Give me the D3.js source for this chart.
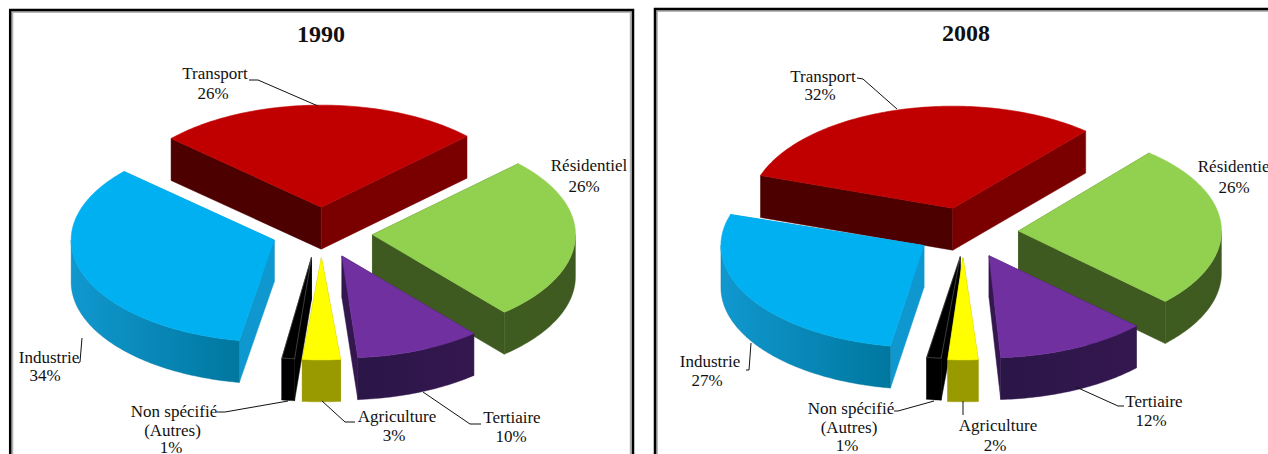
<!DOCTYPE html>
<html>
<head>
<meta charset="utf-8">
<script src="https://cdn.jsdelivr.net/npm/d3@7"></script>
<style>
  html, body { margin: 0; background: #fff; overflow: hidden; }
  text { font-family: "Liberation Serif", serif; fill: #111; }
</style>
</head>
<body>
<div id="chart"></div>
<script>
const categories = ["Transport", "Résidentiel", "Tertiaire", "Agriculture", "Non spécifié", "Industrie"];
const values1990 = [26, 26, 10, 3, 1, 34];
const values2008 = [32, 26, 12, 2, 1, 27];

// couleurs par secteur : dessus, coupe gauche/droite, flanc (dégradé)
const faces = {
  "Transport":    { top: "#c00000", cutA: "#4d0000", cutB: "#7a0000", side: ["#7a0000", "#7a0000"] },
  "Résidentiel":  { top: "#92d050", cutA: "#4f7029", cutB: "#3f5a20", side: ["#3f5a20", "#3f5c20"] },
  "Tertiaire":    { top: "#7030a0", cutA: "#34174f", cutB: "#34174f", side: ["#34174f", "#2b1648"] },
  "Agriculture":  { top: "#ffff00", cutA: "#999900", cutB: "#999900", side: ["#999900", "#999900"] },
  "Non spécifié": { top: "#000000", cutA: "#000000", cutB: "#000000", side: ["#000000", "#000000"] },
  "Industrie":    { top: "#00b0f0", cutA: "#0f97cf", cutB: "#0f97cf", side: ["#00779f", "#1098cf"] }
};

const rx = 203, ry = 102, depth = 42, explode = 49.5;
const rad = Math.PI / 180;
const paintOrder = ["Transport", "Résidentiel", "Industrie", "Tertiaire", "Non spécifié", "Agriculture"];

const charts = [
  {
    title: "1990", values: values1990, titleX: 321, titleY: 42,
    black: [10.2, 10, 622.8, 460], grey: [12.4, 12, 618.3, 460],
    cx: 321, cy: 231, start: -47.7,
    // petits recalages par part : dx, dy, rotation du bord de début, du bord de fin
    nudge: {
      "Transport": [1, 1, 0, 0], "Résidentiel": [2, 2.5, 0, 0], "Tertiaire": [2, 2, 0, 0],
      "Agriculture": [1.2, 2, -0.9, -0.9], "Non spécifié": [-2.5, 1.5, -1.5, -1.5], "Industrie": [0, 1, 0, 0]
    },
    labels: {
      "Transport": [215, 79, 213, 99],
      "Résidentiel": [589, 171, 584, 192],
      "Tertiaire": [512, 423, 511, 442],
      "Agriculture": [397, 422, 394, 441],
      "Non spécifié": [174, 417, 171, 453],
      "Industrie": [49, 363, 45, 381]
    },
    leaders: [
      [[249, 80], [258, 80], [318, 106]],
      [[82, 338], [80, 362], [78, 363]],
      [[217, 412], [225, 412], [288, 401]],
      [[322, 401], [345, 422], [355, 422]],
      [[423, 392], [470, 424], [481, 424]]
    ]
  },
  {
    title: "2008", values: values2008, titleX: 966, titleY: 41,
    black: [655, 9, 640, 460], grey: [657, 11, 640, 460],
    cx: 967, cy: 231, start: -74.3,
    nudge: {
      "Transport": [0, 1, 3, 0], "Résidentiel": [2, 1, -0.8, -0.8], "Tertiaire": [2, 2, -1, -1],
      "Agriculture": [-2.9, 2, -2, -0.6], "Non spécifié": [-1, 1, 0.5, 1], "Industrie": [-1.5, 1, 1, 2]
    },
    labels: {
      "Transport": [823, 82, 820, 100],
      "Résidentiel": [1236, 172, 1234, 193],
      "Tertiaire": [1154, 407, 1151, 426],
      "Agriculture": [998, 431, 995, 451],
      "Non spécifié": [851, 414, 847, 451],
      "Industrie": [710, 367, 707, 386]
    },
    leaders: [
      [[857, 78], [863, 79], [897, 109]],
      [[746, 370], [749, 370], [751, 343]],
      [[894, 411], [898, 411], [934, 401]],
      [[963, 401], [963, 415]],
      [[1076, 387], [1118, 406], [1124, 406]]
    ]
  }
];

const svg = d3.select("#chart").append("svg")
  .attr("width", 1268)
  .attr("height", 454)
  .style("display", "block");

const line = d3.line();
const defs = svg.append("defs");

charts.forEach((chart, c) => {
  const g = svg.append("g");

  g.append("rect")
    .attr("x", chart.grey[0]).attr("y", chart.grey[1])
    .attr("width", chart.grey[2]).attr("height", chart.grey[3])
    .attr("fill", "none").attr("stroke", "#b0b0b0").attr("stroke-width", 1.8);
  g.append("rect")
    .attr("x", chart.black[0]).attr("y", chart.black[1])
    .attr("width", chart.black[2]).attr("height", chart.black[3])
    .attr("fill", "none").attr("stroke", "#000").attr("stroke-width", 2.5);

  g.append("text")
    .attr("x", chart.titleX).attr("y", chart.titleY)
    .attr("text-anchor", "middle")
    .attr("font-size", "24px").attr("font-weight", "bold")
    .text(chart.title);

  const pie = d3.pie().sort(null)
    .startAngle(chart.start * rad)
    .endAngle(chart.start * rad + 2 * Math.PI);
  const arcs = pie(chart.values);

  paintOrder.forEach(name => {
    const i = categories.indexOf(name);
    const d = arcs[i];
    const col = faces[name];
    const [dx, dy, rot0, rot1] = chart.nudge[name];
    const mid = (d.startAngle + d.endAngle) / 2;
    const a0 = d.startAngle + rot0 * rad;
    const a1 = d.endAngle + rot1 * rad;
    const ox = chart.cx + explode * Math.sin(mid) + dx;
    const oy = chart.cy - explode * (ry / rx) * Math.cos(mid) + dy;
    const at = (a, h = 0) => [ox + rx * Math.sin(a), oy - ry * Math.cos(a) + h];
    const arcPts = (from, to, h = 0) => {
      const n = Math.max(2, Math.ceil(Math.abs(to - from) / rad));
      return d3.range(n + 1).map(k => at(from + (to - from) * k / n, h));
    };

    const sg = g.append("g");
    const edge = name === "Non spécifié" ? "#666" : null;

    // faces de coupe
    const cut = (a, fill) => sg.append("path")
      .attr("d", line([[ox, oy], at(a), at(a, depth), [ox, oy + depth]]) + "Z")
      .attr("fill", fill).attr("stroke", fill).attr("stroke-width", 0.5);
    cut(a0, col.cutA);
    cut(a1, col.cutB);

    // flanc visible (entre 90 et 270 degrés)
    const s0 = Math.max(a0, 90 * rad);
    const s1 = Math.min(a1, 270 * rad);
    if (s1 > s0) {
      const id = `side-${c}-${i}`;
      const grad = defs.append("linearGradient").attr("id", id)
        .attr("gradientUnits", "userSpaceOnUse")
        .attr("x1", at(s0)[0]).attr("x2", at(s1)[0])
        .attr("y1", 0).attr("y2", 0);
      grad.append("stop").attr("offset", 0).attr("stop-color", col.side[0]);
      grad.append("stop").attr("offset", 1).attr("stop-color", col.side[1]);
      const pts = arcPts(s0, s1).concat(arcPts(s1, s0, depth));
      sg.append("path")
        .attr("d", line(pts) + "Z")
        .attr("fill", `url(#${id})`)
        .attr("stroke", col.side[0]).attr("stroke-width", 0.4);
    }

    // dessus de la part
    const topPts = [[ox, oy]].concat(arcPts(a0, a1));
    sg.append("path")
      .attr("d", line(topPts) + "Z")
      .attr("fill", col.top)
      .attr("stroke", edge || col.top).attr("stroke-width", 0.6);
  });

  chart.leaders.forEach(pts => {
    g.append("path")
      .attr("d", line(pts))
      .attr("fill", "none").attr("stroke", "#111").attr("stroke-width", 1);
  });

  categories.forEach((name, i) => {
    const [nx, ny, vx, vy] = chart.labels[name];
    const label = (x, y, txt) => g.append("text")
      .attr("x", x).attr("y", y)
      .attr("text-anchor", "middle")
      .attr("font-size", "17px")
      .text(txt);
    label(nx, ny, name);
    if (name === "Non spécifié") label((nx + vx) / 2, (ny + vy) / 2 + 0.5, "(Autres)");
    label(vx, vy, chart.values[i] + "%");
  });
});
</script>
</body>
</html>
